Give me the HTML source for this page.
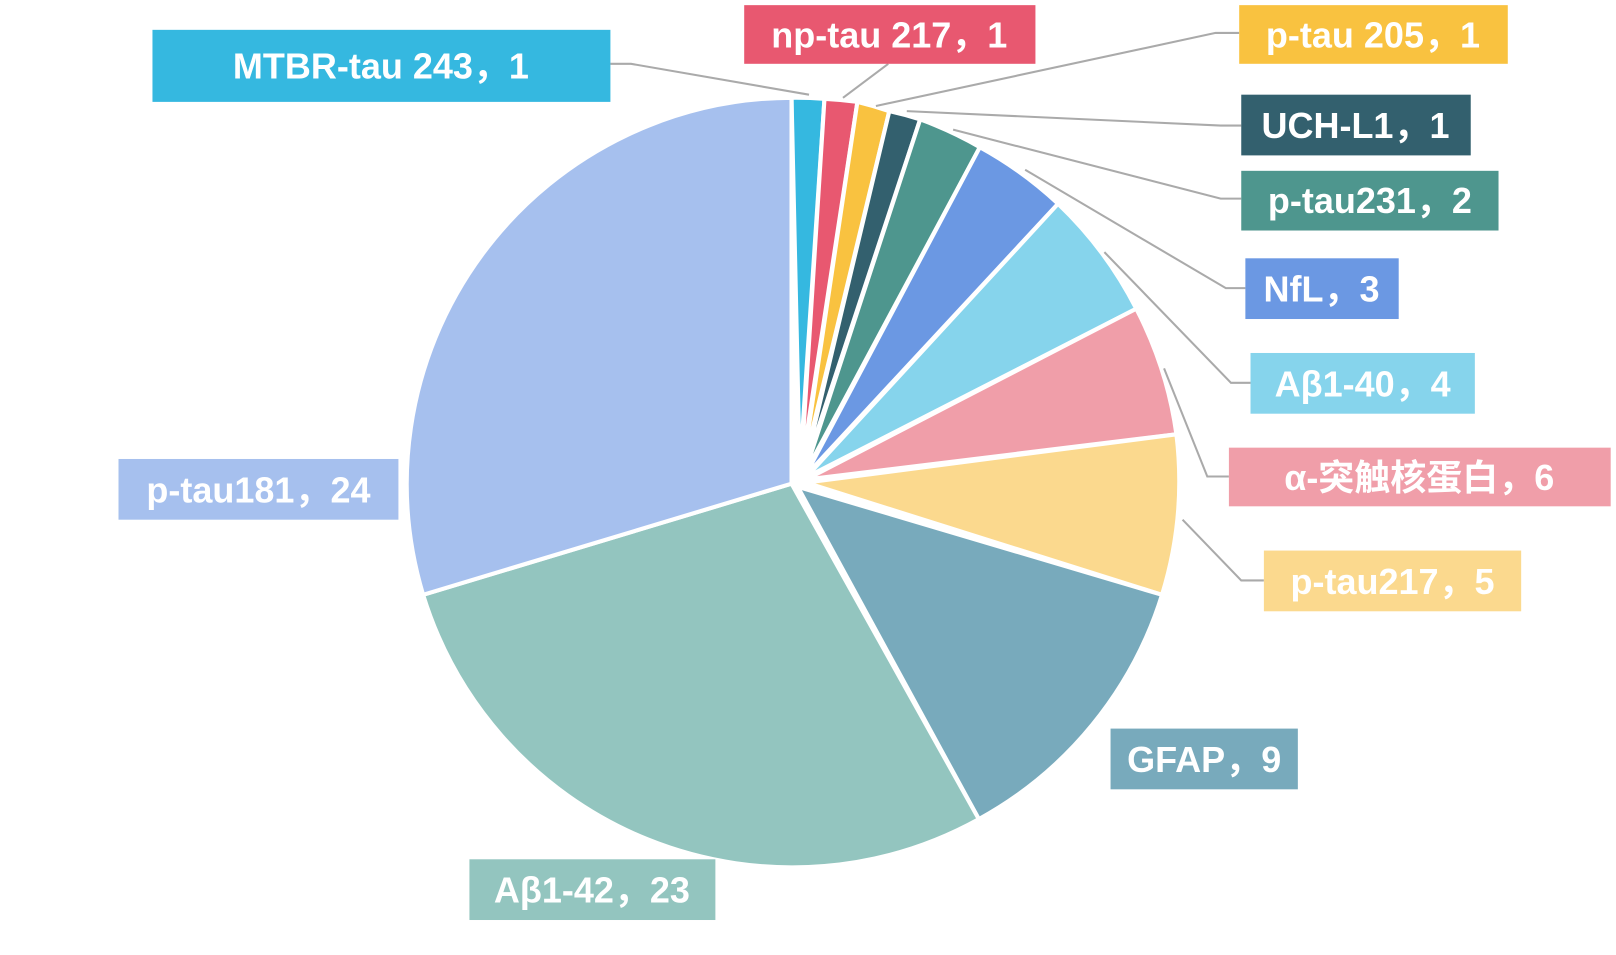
<!DOCTYPE html>
<html><head><meta charset="utf-8"><style>
html,body{margin:0;padding:0;background:#fff;width:1616px;height:955px;overflow:hidden}
text{font-family:"Liberation Sans","Noto Sans CJK SC",sans-serif;font-weight:bold;font-size:35px;fill:#fff;text-anchor:middle;dominant-baseline:central}
</style></head><body>
<svg width="1616" height="955" viewBox="0 0 1568 928" xmlns="http://www.w3.org/2000/svg">
<g stroke="#fff" stroke-width="4" stroke-linejoin="round">
<path d="M776,458 L768,95 A375,375 0 0 1 800,96 Z" fill="#35b8e0"/>
<path d="M777,459 L800,96 A375,375 0 0 1 832,99 Z" fill="#e85870"/>
<path d="M778,460 L832,99 A375,375 0 0 1 863,108 Z" fill="#f9c240"/>
<path d="M779,461 L863,108 A375,375 0 0 1 893,116 Z" fill="#33606e"/>
<path d="M780,462 L893,116 A375,375 0 0 1 951,143 Z" fill="#4e968e"/>
<path d="M781,463 L951,143 A375,375 0 0 1 1027,198 Z" fill="#6b98e3"/>
<path d="M782,464 L1027,198 A375,375 0 0 1 1103,300 Z" fill="#86d4ec"/>
<path d="M782,466 L1103,300 A375,375 0 0 1 1142,422 Z" fill="#f09ea9"/>
<path d="M782,469 L1142,422 A375,375 0 0 1 1128,578 Z" fill="#fbd98e"/>
<path d="M774,473 L1128,578 A375,375 0 0 1 950,796 Z" fill="#78aabc"/>
<path d="M768,470 L950,796 A375,375 0 0 1 410,578 Z" fill="#93c5bf"/>
<path d="M768,470 L410,578 A375,375 0 0 1 768,95 Z" fill="#a6c0ee"/>
</g>
<g stroke="#aaa" stroke-width="2" fill="none">
<polyline points="592,62 612,62 785,92"/>
<polyline points="862,62 818,95"/>
<polyline points="1203,32 1180,32 850,103"/>
<polyline points="1205,122 1185,122 880,108"/>
<polyline points="1205,193 1185,193 925,126"/>
<polyline points="1209,280 1190,280 995,165"/>
<polyline points="1214,372 1195,372 1072,245"/>
<polyline points="1193,463 1172,463 1130,358"/>
<polyline points="1227,564 1205,564 1148,505"/>
</g>
<rect x="147" y="29" width="445" height="70" fill="#35b8e0"/><text x="369" y="64">MTBR-tau 243，1</text>
<rect x="722" y="5" width="283" height="57" fill="#e85870"/><text x="863" y="34">np-tau 217，1</text>
<rect x="1203" y="5" width="261" height="57" fill="#f9c240"/><text x="1333" y="34">p-tau 205，1</text>
<rect x="1205" y="92" width="223" height="59" fill="#33606e"/><text x="1316" y="122">UCH-L1，1</text>
<rect x="1205" y="166" width="250" height="58" fill="#4e968e"/><text x="1330" y="195">p-tau231，2</text>
<rect x="1209" y="251" width="149" height="59" fill="#6b98e3"/><text x="1283" y="281">NfL，3</text>
<rect x="1214" y="343" width="218" height="59" fill="#86d4ec"/><text x="1323" y="373">Aβ1-40，4</text>
<rect x="1193" y="435" width="371" height="57" fill="#f09ea9"/><text x="1378" y="464">α-突触核蛋白，6</text>
<rect x="1227" y="535" width="250" height="59" fill="#fbd98e"/><text x="1352" y="565">p-tau217，5</text>
<rect x="1078" y="708" width="182" height="59" fill="#78aabc"/><text x="1169" y="738">GFAP，9</text>
<rect x="455" y="835" width="239" height="59" fill="#93c5bf"/><text x="574" y="865">Aβ1-42，23</text>
<rect x="114" y="446" width="272" height="59" fill="#a6c0ee"/><text x="250" y="476">p-tau181，24</text>
</svg>
</body></html>
